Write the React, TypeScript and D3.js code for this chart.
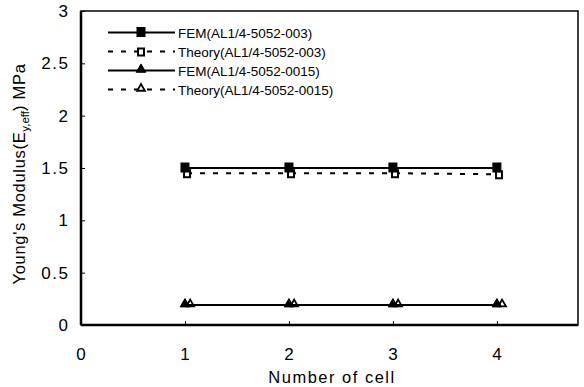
import React, { useRef, useEffect } from 'react';
import * as d3 from 'd3';

// number of cells
const cells = [1, 2, 3, 4];
const theorySquareCells = [1.02, 2.02, 3.02, 4.02];
const theoryTriangleCells = [1.05, 2.05, 3.05, 4.05];
const femSquare = [1.5, 1.5, 1.5, 1.5];
const theorySquare = [1.45, 1.45, 1.45, 1.44];
const femTriangle = [0.19, 0.19, 0.19, 0.19];
const theoryTriangle = [0.19, 0.19, 0.19, 0.19];
const xTicks = [0, 1, 2, 3, 4];
const yTicks = [0, 0.5, 1, 1.5, 2, 2.5, 3];
const legendLabels = [
  'FEM(AL1/4-5052-003)',
  'Theory(AL1/4-5052-003)',
  'FEM(AL1/4-5052-0015)',
  'Theory(AL1/4-5052-0015)',
];

const W = 584;
const H = 387;

const App: React.FC = () => {
  const svgRef = useRef<SVGSVGElement>(null);

  useEffect(() => {
    if (!svgRef.current) return;
    const svg = d3.select(svgRef.current);
    svg.selectAll('*').remove();

    const left = 81, right = 578, top = 11, bottom = 325;
    const x = d3.scaleLinear().domain([0, 4.78]).range([left, right]);
    const y = d3.scaleLinear().domain([0, 3]).range([bottom, top]);
    const font = 'Liberation Sans, Arial, sans-serif';

    // frame
    svg.append('rect')
      .attr('x', left).attr('y', top)
      .attr('width', right - left).attr('height', bottom - top)
      .attr('fill', 'none').attr('stroke', '#000').attr('stroke-width', 1.5);
    svg.append('line').attr('x1', left).attr('x2', left).attr('y1', top).attr('y2', bottom)
      .attr('stroke', '#000').attr('stroke-width', 2.5);
    svg.append('line').attr('x1', left).attr('x2', right).attr('y1', bottom).attr('y2', bottom)
      .attr('stroke', '#000').attr('stroke-width', 2.5);

    // y axis ticks (inward)
    const yAxis = svg.append('g').attr('transform', `translate(${left},0)`)
      .call(d3.axisRight(y).tickValues(yTicks).tickSize(4).tickFormat(() => ''));
    yAxis.select('.domain').remove();
    svg.selectAll('.ylab').data(yTicks).enter().append('text')
      .attr('x', 69.5).attr('y', (d) => y(d) + 6)
      .attr('text-anchor', 'end').attr('font-family', font).attr('font-size', 17)
      .attr('letter-spacing', 1.5)
      .text((d) => String(d));

    // x axis ticks (inward)
    const xAxis = svg.append('g').attr('transform', `translate(0,${bottom})`)
      .call(d3.axisTop(x).tickValues(xTicks).tickSize(4).tickFormat(() => ''));
    xAxis.select('.domain').remove();
    svg.selectAll('.xlab').data(xTicks).enter().append('text')
      .attr('x', (d) => x(d)).attr('y', 360)
      .attr('text-anchor', 'middle').attr('font-family', font).attr('font-size', 17)
      .text((d) => String(d));

    // axis titles
    svg.append('text').attr('x', 332).attr('y', 383).attr('text-anchor', 'middle')
      .attr('font-family', font).attr('font-size', 16.5).attr('letter-spacing', 1.5)
      .text('Number of cell');
    const yt = svg.append('text')
      .attr('transform', 'translate(25,174) rotate(-90)')
      .attr('text-anchor', 'middle').attr('font-family', font).attr('font-size', 16.5)
      .attr('letter-spacing', 0.7);
    yt.append('tspan').text("Young's Modulus(E");
    yt.append('tspan').attr('font-size', 11.5).attr('dy', 4).attr('letter-spacing', 0).text('y,eff');
    yt.append('tspan').attr('dy', -4).text(') MPa');

    const line = d3.line<[number, number]>().x((d) => x(d[0])).y((d) => y(d[1]));

    const series = [
      { xs: theorySquareCells, ys: theorySquare, dash: '5,8', shape: 'square', filled: false },
      { xs: theoryTriangleCells, ys: theoryTriangle, dash: '5,8', shape: 'triangle', filled: false },
      { xs: cells, ys: femSquare, dash: null, shape: 'square', filled: true },
      { xs: cells, ys: femTriangle, dash: null, shape: 'triangle', filled: true },
    ];

    const drawMarker = (g: any, cx: number, cy: number, shape: string, filled: boolean) => {
      if (shape === 'square') {
        const s = filled ? 8 : 6;
        g.append('rect')
          .attr('x', cx - s / 2).attr('y', cy - s / 2 - (filled ? 1 : 0)).attr('width', s).attr('height', s + 1)
          .attr('fill', filled ? '#000' : '#fff').attr('stroke', '#000').attr('stroke-width', filled ? 1 : 2);
      } else {
        const sym = d3.symbol().type(d3.symbolTriangle).size(filled ? 40 : 26);
        g.append('path').attr('d', sym()).attr('transform', `translate(${cx},${cy - 1})`)
          .attr('fill', filled ? '#000' : '#fff').attr('stroke', '#000').attr('stroke-width', filled ? 1 : 1.8);
      }
    };

    series.forEach((s) => {
      const pts = s.xs.map((v, i) => [v, s.ys[i]] as [number, number]);
      svg.append('path').attr('d', line(pts)!).attr('fill', 'none')
        .attr('stroke', '#000').attr('stroke-width', 2)
        .attr('stroke-dasharray', s.dash);
      pts.forEach((p) => drawMarker(svg, x(p[0]), y(p[1]), s.shape, s.filled));
    });

    // legend
    const legendStyle = [
      { dash: null, shape: 'square', filled: true },
      { dash: '5,8', shape: 'square', filled: false },
      { dash: null, shape: 'triangle', filled: true },
      { dash: '5,8', shape: 'triangle', filled: false },
    ];
    legendLabels.forEach((lab, i) => {
      const ly = 32.5 + i * 19;
      const st = legendStyle[i];
      svg.append('line').attr('x1', 108).attr('x2', 175).attr('y1', ly).attr('y2', ly)
        .attr('stroke', '#000').attr('stroke-width', 2).attr('stroke-dasharray', st.dash);
      drawMarker(svg, 141, ly, st.shape, st.filled);
      svg.append('text').attr('x', 178).attr('y', ly + 5)
        .attr('font-family', font).attr('font-size', 13.5)
        .text(lab);
    });
  }, []);

  return (
    <svg ref={svgRef} width={W} height={H}
      style={{ position: 'absolute', left: 0, top: 0, background: '#fff' }} />
  );
};

export default App;
